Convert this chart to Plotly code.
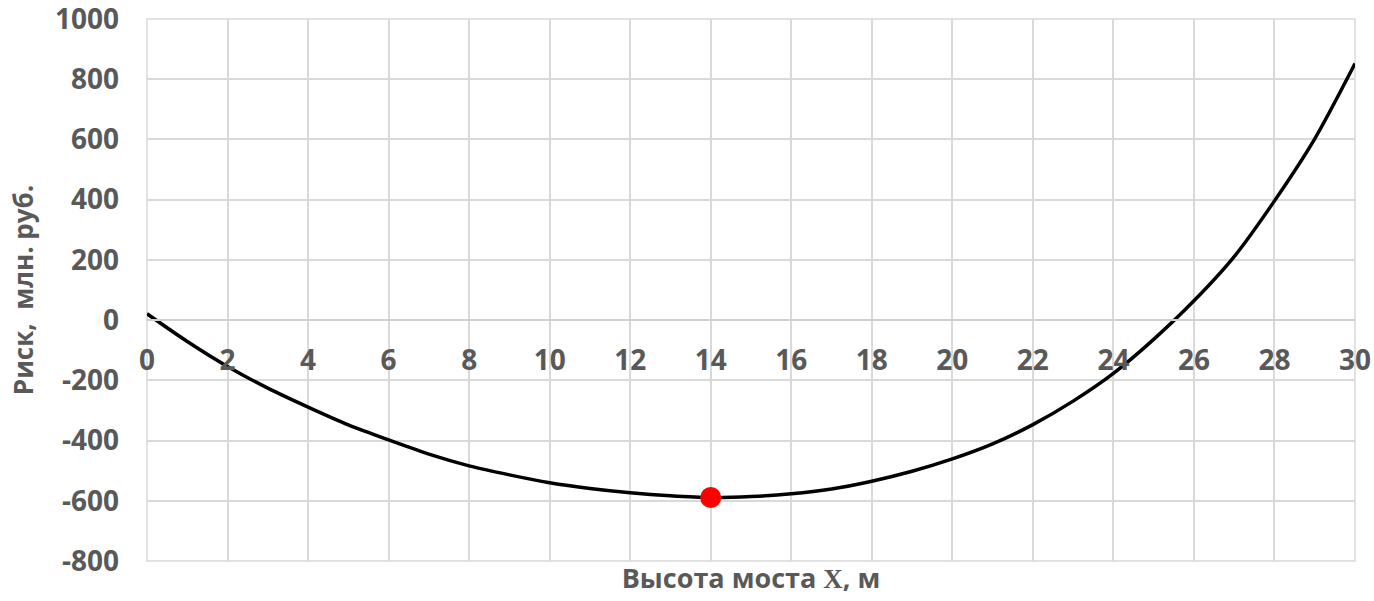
import plotly.graph_objects as go

# Data
heights = list(range(0, 31))
risk = [21, -71, -154, -226, -289, -348, -398, -445, -484, -514,
        -540, -559, -573, -583, -589, -586, -577, -561, -535, -502,
        -461, -411, -347, -269, -177, -64, 64, 211, 396, 602, 852]
opt_x = [14]
opt_y = [-589]

x_ticks = list(range(0, 31, 2))
y_ticks = list(range(-800, 1001, 200))

TXT = "#595959"
GRID = "#d9d9d9"
FONT = "Open Sans"

fig = go.Figure()
fig.add_trace(go.Scatter(
    x=heights, y=risk, mode="lines",
    line=dict(color="black", width=3.5, shape="spline", smoothing=0.8),
    showlegend=False,
))
fig.add_trace(go.Scatter(
    x=opt_x, y=opt_y, mode="markers",
    marker=dict(color="#ff0000", size=21, line=dict(width=0)),
    showlegend=False,
))
# invisible trace carrying the bottom title axis
fig.add_trace(go.Scatter(
    x=[heights[0], heights[-1]], y=[risk[0], risk[-1]], xaxis="x2", mode="markers",
    marker=dict(opacity=0), hoverinfo="skip", showlegend=False,
))

fig.update_layout(
    width=1374, height=601,
    margin=dict(l=147, r=19, t=19, b=40, autoexpand=False),
    paper_bgcolor="white", plot_bgcolor="white",
    font=dict(family=FONT, color=TXT),
    xaxis=dict(
        range=[0, 30], tickvals=x_ticks, ticktext=[str(v) for v in x_ticks],
        anchor="free", position=800 / 1800, automargin=False,
        showgrid=True, gridcolor=GRID, gridwidth=1.5,
        zeroline=False, showline=True, linecolor="#cfcfcf", linewidth=2,
        ticks="", ticklabelstandoff=15, ticklabeloverflow="allow",
        tickfont=dict(family=FONT, size=28, color=TXT, weight="bold"),
    ),
    xaxis2=dict(
        range=[0, 30], overlaying="x", anchor="y", side="bottom", automargin=False,
        showgrid=False, zeroline=False, showline=False,
        showticklabels=False, ticks="",
        title=dict(
            text="Высота моста <span style=\"font-family:'Liberation Serif'\">X</span>, м",
            standoff=8,
            font=dict(family=FONT, size=27, color=TXT, weight="bold")),
    ),
    yaxis=dict(
        range=[-800, 1000], tickvals=y_ticks, ticktext=[str(v) for v in y_ticks],
        automargin=False,
        showgrid=True, gridcolor=GRID, gridwidth=1.5,
        zeroline=False, showline=False,
        ticks="", ticklabelstandoff=27, ticklabeloverflow="allow",
        tickfont=dict(family=FONT, size=28, color=TXT, weight="bold"),
        title=dict(text="Риск,  млн. руб.", standoff=13,
                   font=dict(family=FONT, size=26, color=TXT, weight="bold")),
    ),
    shapes=[dict(type="rect", xref="paper", yref="paper", x0=0, x1=1, y0=0, y1=1,
                 line=dict(color=GRID, width=1.5), fillcolor="rgba(0,0,0,0)",
                 layer="below")],
)

fig.write_html("out.html", config={"displayModeBar": False},
               post_script="document.body.style.margin='0';")
